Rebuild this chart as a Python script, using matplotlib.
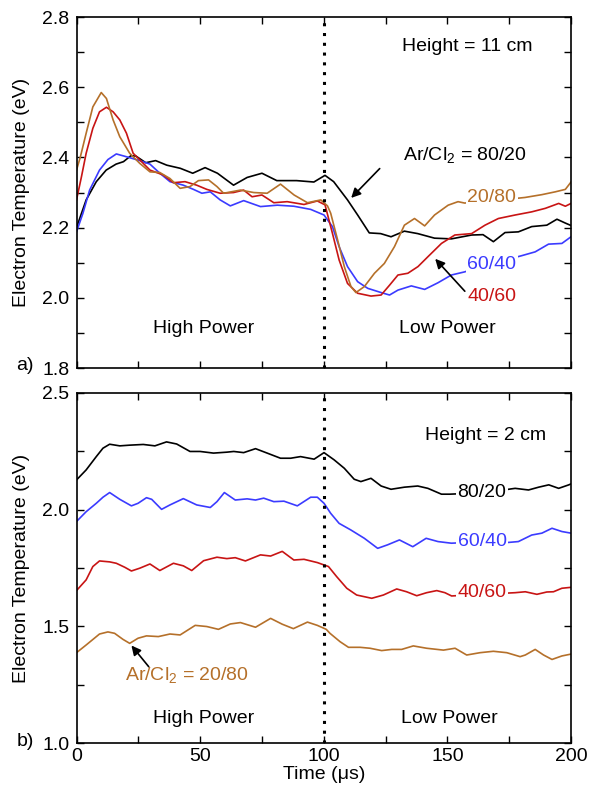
import matplotlib
matplotlib.use('Agg')
import matplotlib.pyplot as plt
from matplotlib.ticker import MultipleLocator

plt.rcParams['font.family'] = ['Liberation Sans', 'DejaVu Sans']
plt.rcParams['mathtext.default'] = 'regular'

# ---- panel a) Height = 11 cm ----
a_t_8020 = [0, 3.9, 8, 12, 16, 19, 22, 24, 28, 32, 36.5, 42, 47, 52, 57, 63.5, 69, 75, 81, 89, 96, 100.5,
            104, 109.6, 113.7, 118.4, 123, 127.2, 132.6, 138, 144.8, 151.6, 159.8, 164.4, 168.6, 173.3,
            178.7, 184.1, 190.2, 194.3, 197.7, 200]
a_T_8020 = [2.20, 2.279, 2.331, 2.364, 2.381, 2.388, 2.405, 2.404, 2.385, 2.391, 2.378, 2.369, 2.355, 2.371,
            2.355, 2.321, 2.343, 2.355, 2.334, 2.334, 2.330, 2.349, 2.331, 2.279, 2.236, 2.185, 2.183, 2.174,
            2.19, 2.183, 2.17, 2.168, 2.179, 2.18, 2.16, 2.186, 2.188, 2.203, 2.207, 2.224, 2.213, 2.206]

a_t_2080 = [0, 1.5, 3.9, 6.6, 10, 12.1, 14.8, 17.5, 21.5, 25.6, 29.7, 33.7, 37.8, 41.9, 45.9, 49.3, 53.4,
            56.8, 59.5, 66.3, 71.7, 77.1, 82.5, 88, 93.4, 98.8, 101.5, 102.8, 105.6, 108.3, 111, 113, 116.4,
            120.5, 124.5, 128.6, 132.6, 136.7, 140.8, 144.8, 150.3, 154.3, 157, 163, 170, 176, 181.4, 188.2,
            193.6, 197.7, 200]
a_T_2080 = [2.364, 2.40, 2.469, 2.544, 2.585, 2.568, 2.507, 2.459, 2.412, 2.383, 2.359, 2.357, 2.34, 2.312,
            2.317, 2.334, 2.336, 2.317, 2.298, 2.307, 2.3, 2.298, 2.324, 2.293, 2.271, 2.279, 2.262, 2.241,
            2.165, 2.089, 2.032, 2.015, 2.032, 2.07, 2.098, 2.146, 2.207, 2.226, 2.205, 2.236, 2.264, 2.274,
            2.27, 2.275, 2.28, 2.282, 2.286, 2.294, 2.302, 2.309, 2.33]

a_t_4060 = [0, 2, 3.9, 6.6, 9.3, 12.1, 14.8, 17.5, 20.2, 22.9, 25.6, 29.7, 35.1, 39.2, 43.9, 48.6, 52.7, 58.1,
            63.5, 67.6, 71, 75, 79.8, 85.2, 92, 97.4, 100.5, 103.5, 106.2, 109.6, 113.7, 119.1, 123.2, 126.6,
            130, 134, 138.1, 142.1, 147.6, 153, 159.8, 165.2, 170.6, 177.4, 184.1, 189.6, 195, 197.7, 200]
a_T_4060 = [2.279, 2.345, 2.412, 2.483, 2.53, 2.543, 2.53, 2.507, 2.469, 2.412, 2.393, 2.364, 2.35, 2.328,
            2.331, 2.321, 2.309, 2.298, 2.3, 2.307, 2.288, 2.293, 2.271, 2.274, 2.266, 2.276, 2.265, 2.184,
            2.108, 2.041, 2.013, 2.005, 2.008, 2.036, 2.065, 2.07, 2.089, 2.117, 2.155, 2.179, 2.183, 2.207,
            2.226, 2.236, 2.245, 2.255, 2.269, 2.261, 2.269]

a_t_6040 = [0, 2.6, 5.3, 9.3, 12.7, 16.1, 20.2, 25.6, 29.7, 33.7, 37.8, 43.2, 47.3, 50.7, 54.1, 58.1, 62.2,
            67.6, 74.4, 81.2, 87.9, 94.7, 100.1, 103.5, 106.2, 109.6, 113.7, 117.8, 123.2, 126.6, 130, 135.4,
            140.8, 146.2, 151.6, 157, 164, 172, 180, 185.5, 190.9, 196.3, 200]
a_T_6040 = [2.188, 2.241, 2.307, 2.364, 2.394, 2.41, 2.402, 2.391, 2.381, 2.355, 2.331, 2.321, 2.309, 2.298,
            2.302, 2.279, 2.262, 2.277, 2.26, 2.264, 2.261, 2.252, 2.236, 2.203, 2.146, 2.089, 2.046, 2.027,
            2.015, 2.008, 2.022, 2.034, 2.024, 2.043, 2.065, 2.074, 2.09, 2.105, 2.12, 2.131, 2.153, 2.155,
            2.174]

# ---- panel b) Height = 2 cm ----
b_t_8020 = [0, 3.9, 8, 10.7, 13.4, 17.5, 21.5, 27, 31.7, 36.4, 40.5, 45.9, 50, 55.4, 60.8, 63.6, 67.6, 72.4,
            77.1, 82.5, 86.6, 90.6, 96.1, 100.1, 104.2, 108.3, 112.3, 115, 119.1, 123.2, 127.2, 132.6, 138,
            142.1, 147.6, 150.9, 160, 170, 177.4, 182.8, 186.9, 191, 195, 199.1, 200]
b_T_8020 = [2.127, 2.17, 2.227, 2.263, 2.28, 2.273, 2.276, 2.279, 2.273, 2.29, 2.281, 2.249, 2.249, 2.242,
            2.246, 2.249, 2.244, 2.261, 2.242, 2.22, 2.22, 2.227, 2.216, 2.244, 2.213, 2.177, 2.13, 2.12, 2.134,
            2.101, 2.087, 2.096, 2.101, 2.091, 2.066, 2.066, 2.07, 2.08, 2.091, 2.084, 2.096, 2.106, 2.091,
            2.106, 2.11]

b_t_6040 = [0, 3.9, 8, 10.7, 13.4, 17.5, 22.2, 24.9, 28.3, 30.4, 34.4, 37.8, 43.2, 48.6, 54.1, 56.8, 59.8,
            64.2, 69, 72.4, 75.7, 79.8, 83.9, 89.3, 94.7, 97.4, 100.1, 102.8, 106.2, 110.9, 116.4, 121.8, 125.8,
            130.6, 136, 141.4, 146.2, 151.6, 160, 170, 178.7, 184.1, 188.2, 192.3, 196.3, 200]
b_T_6040 = [1.949, 1.991, 2.027, 2.053, 2.073, 2.044, 2.016, 2.027, 2.051, 2.044, 2.001, 2.02, 2.047, 2.02,
            2.009, 2.034, 2.073, 2.041, 2.046, 2.041, 2.049, 2.034, 2.036, 2.016, 2.053, 2.053, 2.027, 1.984,
            1.941, 1.913, 1.877, 1.834, 1.849, 1.87, 1.841, 1.877, 1.863, 1.856, 1.86, 1.855, 1.863, 1.891,
            1.899, 1.92, 1.906, 1.899]

b_t_4060 = [0, 3.9, 6.6, 9.3, 13.4, 16.1, 19.5, 22.2, 25.6, 29.7, 33.7, 39.2, 43.2, 46.6, 51.4, 56.8, 60.8,
            64.2, 68.3, 74.4, 78.5, 83.2, 87.9, 92, 97.4, 101.9, 105.2, 109.3, 113.3, 119.4, 124.1, 129.5, 133.5,
            137.6, 141.6, 145.7, 149, 151.7, 160, 170, 177.4, 181.5, 186.2, 190.2, 192.9, 196.3, 200]
b_T_4060 = [1.653, 1.699, 1.756, 1.78, 1.776, 1.77, 1.753, 1.737, 1.749, 1.767, 1.739, 1.77, 1.759, 1.739,
            1.781, 1.796, 1.79, 1.794, 1.78, 1.806, 1.801, 1.821, 1.784, 1.787, 1.773, 1.756, 1.713, 1.663,
            1.634, 1.62, 1.634, 1.66, 1.648, 1.631, 1.644, 1.653, 1.644, 1.63, 1.635, 1.64, 1.644, 1.648, 1.637,
            1.647, 1.648, 1.663, 1.667]

b_t_2080 = [0, 3.9, 9.3, 12.7, 15.4, 18.8, 21.5, 24.9, 28.3, 33.1, 37.8, 41.9, 48, 52.7, 57.4, 62.2, 66.3,
            72.4, 78.5, 83.2, 87.7, 93.4, 97.4, 101, 102.5, 106.6, 110, 114.7, 118.7, 123.4, 127.5, 131.5, 136.2,
            141.6, 148.4, 153.1, 157.8, 163.2, 168.6, 174, 179.4, 181.5, 185.5, 188.9, 192.3, 196.3, 200]
b_T_2080 = [1.387, 1.42, 1.467, 1.476, 1.47, 1.444, 1.427, 1.449, 1.459, 1.456, 1.467, 1.463, 1.504, 1.499,
            1.487, 1.51, 1.516, 1.496, 1.534, 1.509, 1.49, 1.518, 1.504, 1.487, 1.47, 1.434, 1.41, 1.41, 1.406,
            1.396, 1.401, 1.401, 1.416, 1.406, 1.398, 1.406, 1.377, 1.387, 1.393, 1.387, 1.37, 1.377, 1.401,
            1.377, 1.358, 1.373, 1.381]

c_black = 'black'
c_blue = '#3b3bff'
c_red = '#c81414'
c_brown = '#b5702a'

fig = plt.figure(figsize=(5.89, 7.94), dpi=100)
ax1 = fig.add_axes([0.1299, 0.5365, 0.8396, 0.442])
ax2 = fig.add_axes([0.1299, 0.0642, 0.8396, 0.441])

lw = 1.2
ax1.plot(a_t_8020, a_T_8020, color=c_black, lw=lw)
ax1.plot(a_t_6040, a_T_6040, color=c_blue, lw=lw)
ax1.plot(a_t_4060, a_T_4060, color=c_red, lw=lw)
ax1.plot(a_t_2080, a_T_2080, color=c_brown, lw=lw)

ax2.plot(b_t_8020, b_T_8020, color=c_black, lw=lw)
ax2.plot(b_t_6040, b_T_6040, color=c_blue, lw=lw)
ax2.plot(b_t_4060, b_T_4060, color=c_red, lw=lw)
ax2.plot(b_t_2080, b_T_2080, color=c_brown, lw=lw)

fs = 14
for ax in (ax1, ax2):
    ax.axvline(100, color='black', ls=(0, (1, 2.2)), lw=2.2)
    ax.set_xlim(0, 200)
    ax.xaxis.set_major_locator(MultipleLocator(50))
    ax.xaxis.set_minor_locator(MultipleLocator(25))
    ax.tick_params(which='both', direction='in', top=True, right=True, length=5, width=1,
                   labelsize=fs)
    ax.tick_params(axis='y', pad=5)
    for s in ax.spines.values():
        s.set_linewidth(1.2)
    ax.set_ylabel('Electron Temperature (eV)', fontsize=fs, labelpad=9)

ax1.set_ylim(1.8, 2.8)
ax1.yaxis.set_major_locator(MultipleLocator(0.2))
ax1.yaxis.set_minor_locator(MultipleLocator(0.1))
ax1.yaxis.set_major_formatter(plt.FormatStrFormatter('%.1f'))
ax1.tick_params(labelbottom=False)

ax2.set_ylim(1.0, 2.5)
ax2.yaxis.set_major_locator(MultipleLocator(0.5))
ax2.yaxis.set_minor_locator(MultipleLocator(0.25))
ax2.yaxis.set_major_formatter(plt.FormatStrFormatter('%.1f'))
ax2.set_xlabel('Time (\u03bcs)', fontsize=fs, labelpad=1)

box = dict(facecolor='white', edgecolor='none', pad=1)

# panel a annotations
ax1.text(158, 2.717, 'Height = 11 cm', fontsize=fs, ha='center', va='center')
ax1.text(51.6, 1.914, 'High Power', fontsize=fs, ha='center', va='center')
ax1.text(150, 1.914, 'Low Power', fontsize=fs, ha='center', va='center')
ax1.text(157, 2.407, 'Ar/Cl$_2$ = 80/20', fontsize=fs, ha='center', va='center', zorder=5)
ax1.annotate('', xy=(110.3, 2.279), xytext=(123.4, 2.374),
             arrowprops=dict(arrowstyle='-|>', color='black', lw=1.2, mutation_scale=14))
ax1.text(168, 2.287, '20/80', fontsize=fs, color=c_brown, ha='center', va='center', bbox=box, zorder=5)
ax1.text(168, 2.096, '60/40', fontsize=fs, color=c_blue, ha='center', va='center', bbox=box, zorder=5)
ax1.text(168, 2.005, '40/60', fontsize=fs, color=c_red, ha='center', va='center', zorder=5)
ax1.annotate('', xy=(144.3, 2.117), xytext=(157.8, 2.013),
             arrowprops=dict(arrowstyle='-|>', color='black', lw=1.2, mutation_scale=14))
fig.text(0.028, 1 - 366 / 794, 'a)', fontsize=fs, ha='left', va='center')

# panel b annotations
ax2.text(165.6, 2.316, 'Height = 2 cm', fontsize=fs, ha='center', va='center')
ax2.text(51.6, 1.103, 'High Power', fontsize=fs, ha='center', va='center')
ax2.text(150.7, 1.103, 'Low Power', fontsize=fs, ha='center', va='center')
ax2.text(164, 2.073, '80/20', fontsize=fs, color=c_black, ha='center', va='center', bbox=box, zorder=5)
ax2.text(164, 1.863, '60/40', fontsize=fs, color=c_blue, ha='center', va='center', bbox=box, zorder=5)
ax2.text(164, 1.644, '40/60', fontsize=fs, color=c_red, ha='center', va='center', bbox=box, zorder=5)
ax2.text(44.7, 1.291, 'Ar/Cl$_2$ = 20/80', fontsize=fs, color=c_brown, ha='center', va='center')
ax2.annotate('', xy=(21.5, 1.427), xytext=(29.9, 1.318),
             arrowprops=dict(arrowstyle='-|>', color='black', lw=1.2, mutation_scale=14))
fig.text(0.028, 1 - 741 / 794, 'b)', fontsize=fs, ha='left', va='center')

fig.savefig('out.png', dpi=100)
